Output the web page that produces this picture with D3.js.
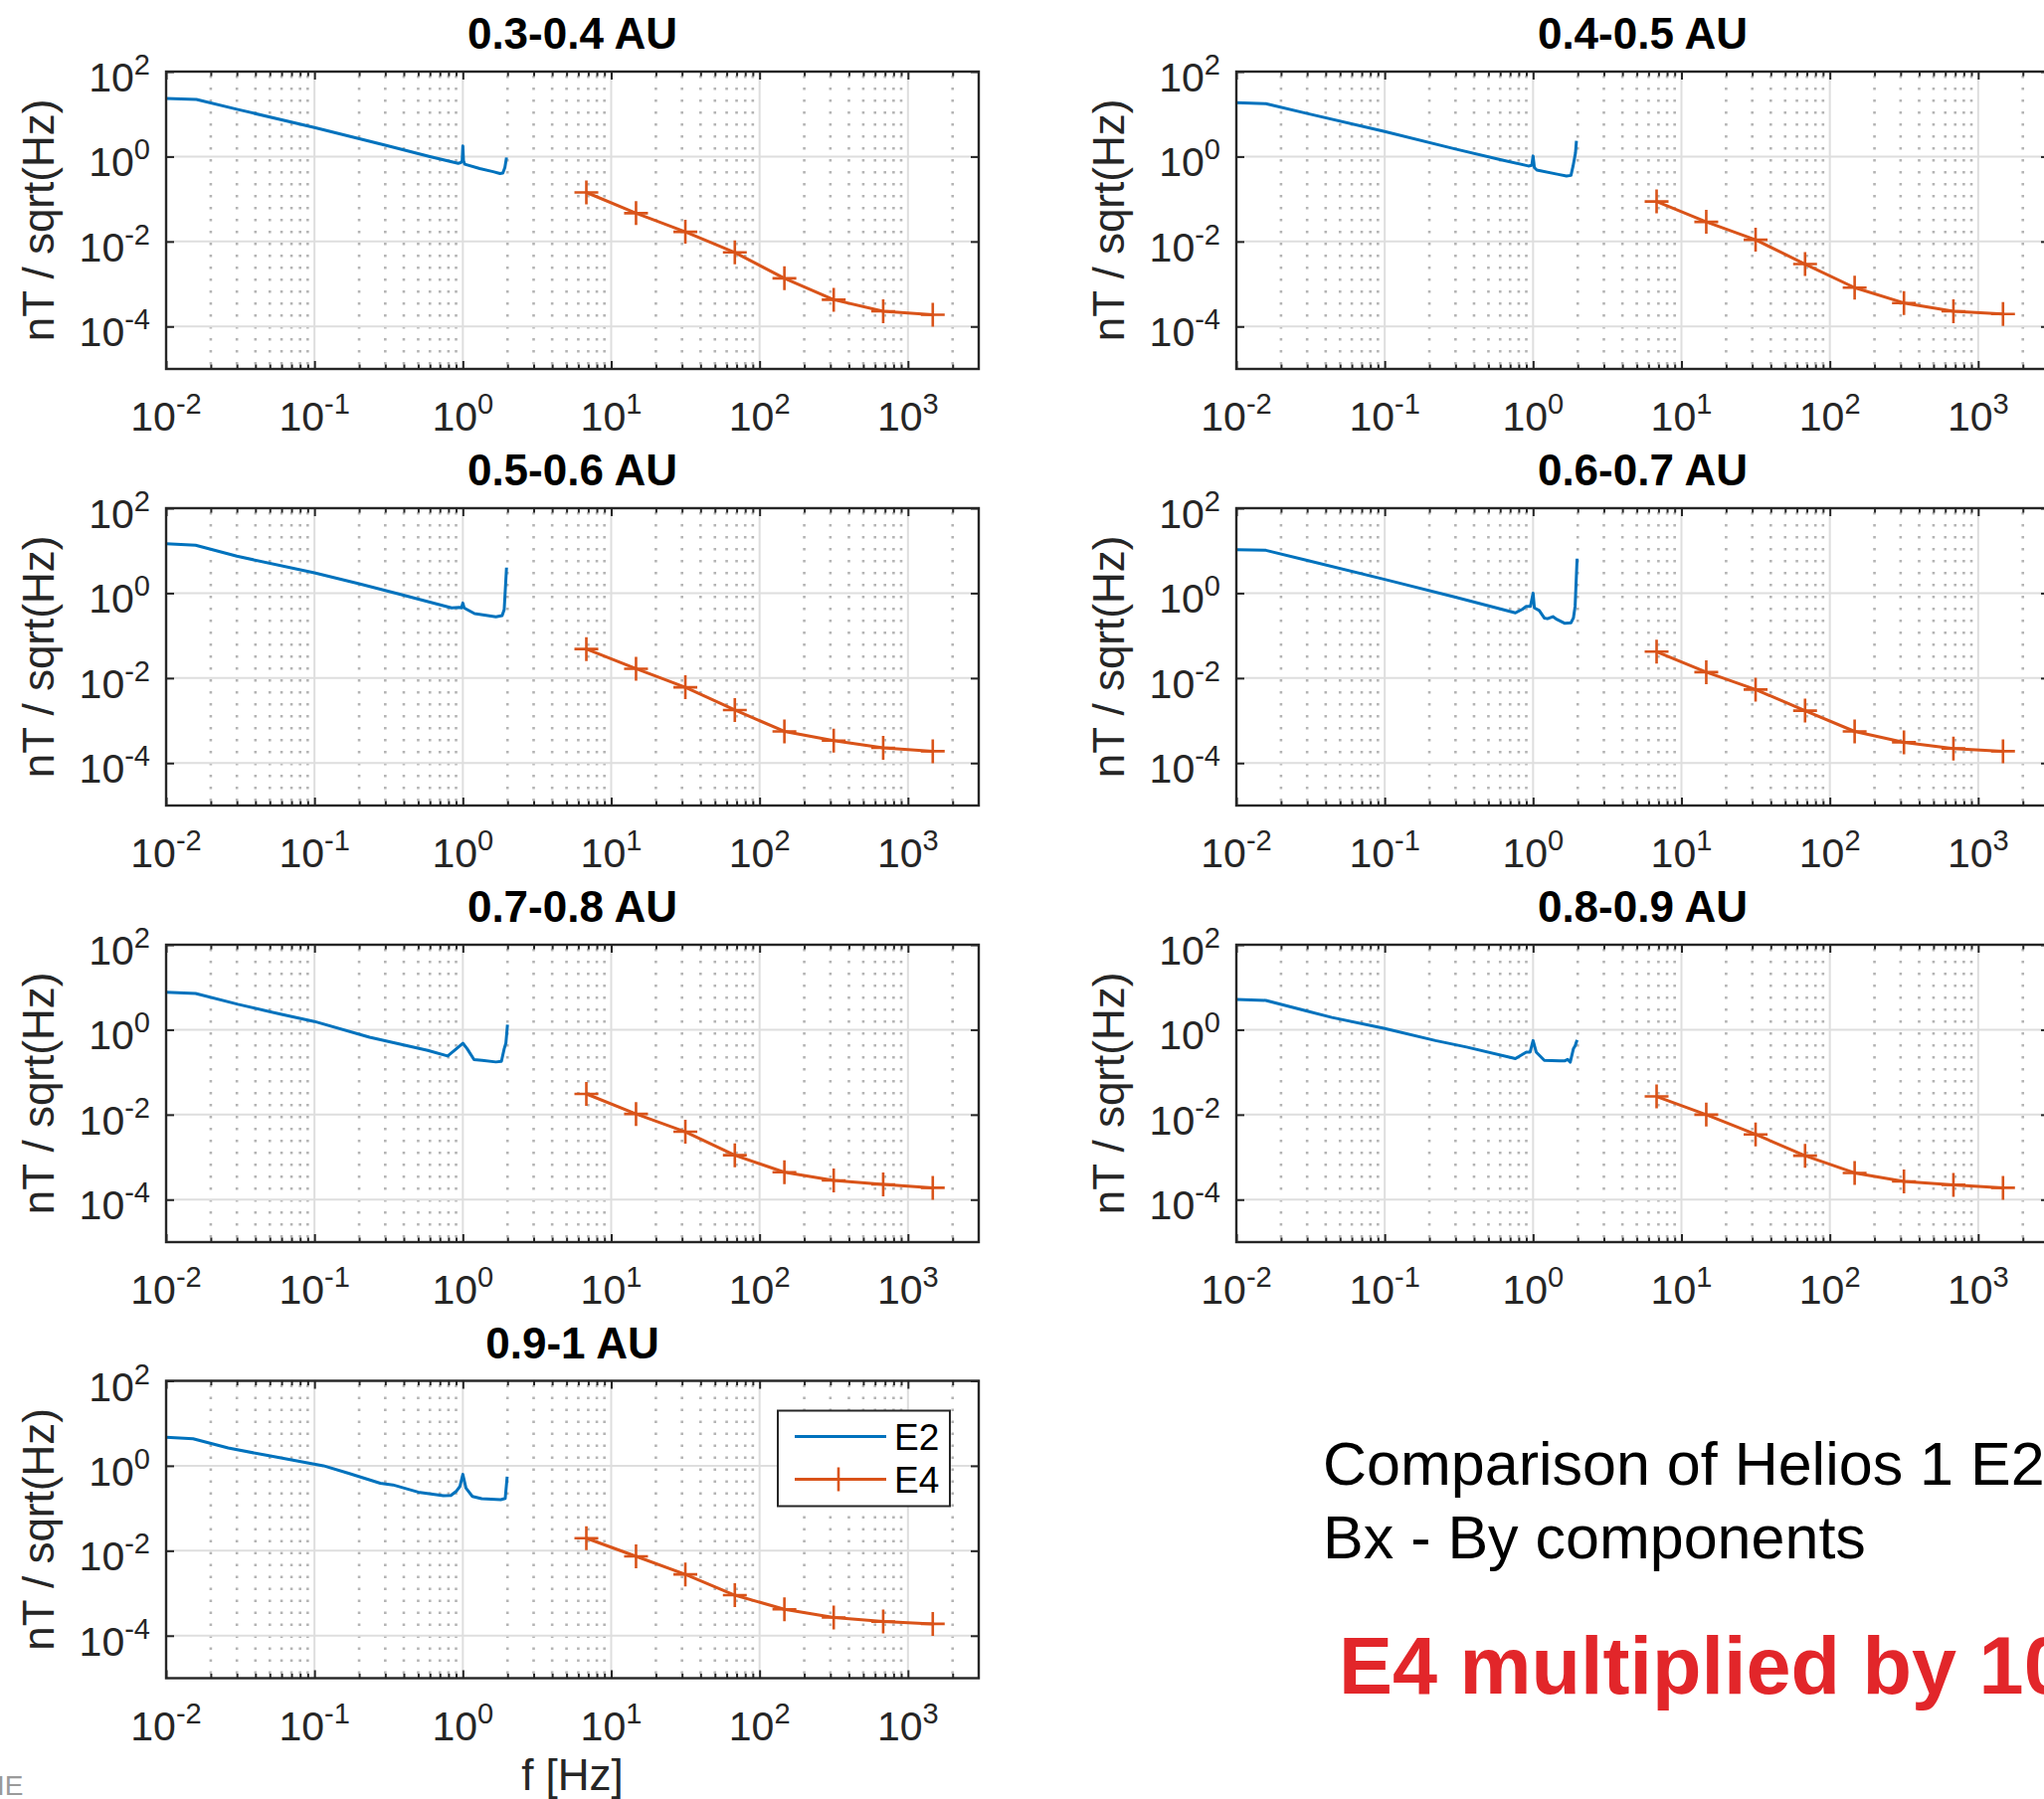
<!DOCTYPE html>
<html>
<head>
<meta charset="utf-8">
<script src="https://cdn.jsdelivr.net/npm/d3@7"></script>
<style>
  html, body { margin: 0; padding: 0; background: #fff; overflow: hidden; }
  svg { display: block; font-family: "Liberation Sans", Arial, Helvetica, sans-serif; }
</style>
</head>
<body>
<svg id="fig" width="2055" height="1809"></svg>
<script>
// ---- data -------------------------------------------------------------

// heliocentric distance bins, one panel each
const bands = ["0.3-0.4 AU", "0.4-0.5 AU", "0.5-0.6 AU", "0.6-0.7 AU",
               "0.7-0.8 AU", "0.8-0.9 AU", "0.9-1 AU"];

// E4 search-coil filter centre frequencies [Hz]
const e4Freq = [6.8, 14.7, 31.6, 68.1, 147, 316, 681, 1470];

// E4 amplitude spectral density per band [nT/sqrt(Hz)]
const e4_03 = [0.143, 0.0465, 0.0169, 0.00554, 0.00136, 4.26e-4, 2.28e-4, 1.89e-4];
const e4_04 = [0.0875, 0.0290, 0.0110, 0.00294, 8.2e-4, 3.57e-4, 2.28e-4, 1.97e-4];
const e4_05 = [0.0483, 0.0166, 0.00608, 0.00177, 5.55e-4, 3.37e-4, 2.28e-4, 1.90e-4];
const e4_06 = [0.0418, 0.0138, 0.00537, 0.00171, 5.55e-4, 3.08e-4, 2.20e-4, 1.90e-4];
const e4_07 = [0.0308, 0.0104, 0.00396, 0.00111, 4.41e-4, 2.83e-4, 2.28e-4, 1.90e-4];
const e4_08 = [0.0268, 0.0100, 0.00343, 0.00108, 4.25e-4, 2.68e-4, 2.23e-4, 1.90e-4];
const e4_09 = [0.0197, 0.00737, 0.00277, 8.98e-4, 4.18e-4, 2.67e-4, 2.15e-4, 1.90e-4];

// E2 fluxgate spectra per band: [frequency Hz, nT/sqrt(Hz)]
const e2_03 = [[0.01, 23.4], [0.016, 22.2], [0.03, 13.0], [0.1, 4.8], [0.3, 1.85], [0.6, 1.0],
  [0.93, 0.69], [0.97, 0.72], [0.99, 0.8], [1.0, 1.78], [1.01, 0.8], [1.03, 0.66],
  [1.3, 0.52], [1.6, 0.44], [1.78, 0.40], [1.86, 0.41], [1.92, 0.55], [1.97, 0.95]];
const e2_04 = [[0.01, 18.6], [0.0158, 17.6], [0.03, 10.3], [0.1, 3.9], [0.3, 1.5], [0.6, 0.85],
  [0.93, 0.60], [0.98, 0.62], [1.0, 1.03], [1.02, 0.55], [1.06, 0.48], [1.48, 0.38],
  [1.68, 0.35], [1.8, 0.36], [1.86, 0.6], [1.93, 1.2], [1.96, 2.35]];
const e2_05 = [[0.01, 14.5], [0.0158, 13.4], [0.03, 7.4], [0.1, 3.0], [0.2, 1.66], [0.37, 0.96],
  [0.84, 0.45], [0.95, 0.46], [0.98, 0.45], [1.0, 0.585], [1.02, 0.45], [1.07, 0.41],
  [1.2, 0.33], [1.67, 0.277], [1.84, 0.297], [1.9, 0.41], [1.97, 4.0]];
const e2_06 = [[0.01, 10.5], [0.0158, 10.2], [0.03, 5.9], [0.1, 2.1], [0.3, 0.8], [0.76, 0.343],
  [0.85, 0.42], [0.9, 0.49], [0.96, 0.49], [1.0, 1.0], [1.02, 0.45], [1.1, 0.39],
  [1.19, 0.26], [1.25, 0.25], [1.36, 0.28], [1.45, 0.24], [1.64, 0.194], [1.8, 0.20],
  [1.87, 0.26], [1.92, 0.49], [1.98, 6.5]];
const e2_07 = [[0.01, 7.65], [0.0158, 7.13], [0.0305, 3.96], [0.059, 2.32], [0.1, 1.56],
  [0.235, 0.664], [0.58, 0.325], [0.79, 0.24], [0.905, 0.356], [1.0, 0.48], [1.07, 0.356],
  [1.19, 0.197], [1.35, 0.19], [1.67, 0.174], [1.82, 0.18], [1.9, 0.356], [1.95, 0.48],
  [2.0, 1.31]];
const e2_08 = [[0.01, 5.18], [0.0158, 4.9], [0.0296, 2.77], [0.0441, 1.94], [0.0986, 1.08],
  [0.22, 0.555], [0.356, 0.39], [0.76, 0.208], [0.9, 0.297], [0.955, 0.297], [1.0, 0.555],
  [1.05, 0.297], [1.19, 0.19], [1.51, 0.186], [1.64, 0.186], [1.71, 0.20], [1.78, 0.172],
  [1.87, 0.356], [1.92, 0.415], [1.98, 0.575]];
const e2_09 = [[0.01, 4.72], [0.0152, 4.32], [0.0262, 2.62], [0.0473, 1.77], [0.115, 1.0],
  [0.17, 0.664], [0.278, 0.388], [0.338, 0.355], [0.5, 0.24], [0.74, 0.197], [0.83, 0.20],
  [0.9, 0.248], [0.955, 0.325], [1.0, 0.628], [1.05, 0.297], [1.16, 0.19], [1.34, 0.168],
  [1.8, 0.159], [1.93, 0.17], [1.99, 0.555]];

// axis ticks
const xTicks = [1e-2, 1e-1, 1e0, 1e1, 1e2, 1e3];
const xTickExp = ["-2", "-1", "0", "1", "2", "3"];
const yTicks = [1e-4, 1e-2, 1e0, 1e2];
const yTickExp = ["-4", "-2", "0", "2"];
const seriesNames = ["E2", "E4"];

// ---- layout -----------------------------------------------------------
const colX = [167, 1243];
const rowY = [72, 511, 950, 1388.5];
const W = 817, H = 299;
const blue = "#0072BD", orange = "#D95319", ink = "#262626";

const panels = [
  { title: bands[0], e2: e2_03, e4: e4_03, col: 0, row: 0 },
  { title: bands[1], e2: e2_04, e4: e4_04, col: 1, row: 0 },
  { title: bands[2], e2: e2_05, e4: e4_05, col: 0, row: 1 },
  { title: bands[3], e2: e2_06, e4: e4_06, col: 1, row: 1 },
  { title: bands[4], e2: e2_07, e4: e4_07, col: 0, row: 2 },
  { title: bands[5], e2: e2_08, e4: e4_08, col: 1, row: 2 },
  { title: bands[6], e2: e2_09, e4: e4_09, col: 0, row: 3, legend: true, xlabel: true }
];

const svg = d3.select("#fig");
svg.append("rect").attr("width", 2055).attr("height", 1809).attr("fill", "#fff");

const x = d3.scaleLog().domain([0.01, 3000]).range([0, W]);
const y = d3.scaleLog().domain([1e-5, 100]).range([H, 0]);

// minor decade positions 2..9 x 10^k inside the x domain
const xMinor = [];
for (let k = -2; k <= 3; k++) {
  for (let m = 2; m <= 9; m++) {
    const v = m * Math.pow(10, k);
    if (v < 3000) xMinor.push(v);
  }
}

const plus = "M-12,0H12M0,-12V12";

panels.forEach((p, i) => {
  const g = svg.append("g")
    .attr("transform", `translate(${colX[p.col]},${rowY[p.row]})`);

  const clipId = "clip" + i;
  g.append("clipPath").attr("id", clipId)
    .append("rect").attr("width", W).attr("height", H);

  // minor vertical grid (dotted)
  g.append("g").selectAll("line").data(xMinor).join("line")
    .attr("x1", d => x(d)).attr("x2", d => x(d))
    .attr("y1", 4).attr("y2", H)
    .attr("stroke", "#b4b4b4").attr("stroke-width", 2.6)
    .attr("stroke-dasharray", "2.6 9.4");

  // major grid
  g.append("g").selectAll("line").data(xTicks).join("line")
    .attr("x1", d => x(d)).attr("x2", d => x(d))
    .attr("y1", 0).attr("y2", H)
    .attr("stroke", "#dedede").attr("stroke-width", 2);
  g.append("g").selectAll("line").data(yTicks).join("line")
    .attr("y1", d => y(d)).attr("y2", d => y(d))
    .attr("x1", 0).attr("x2", W)
    .attr("stroke", "#dedede").attr("stroke-width", 2);

  // inward tick marks on all four sides
  const tickAxis = (axis, tr) => {
    const a = g.append("g").attr("transform", tr).call(axis);
    a.select(".domain").remove();
    a.selectAll(".tick line").attr("stroke", ink).attr("stroke-width", 2);
    a.selectAll(".tick text").remove();
  };
  tickAxis(d3.axisBottom(x).tickValues(xTicks).tickSize(-8).tickFormat(""), `translate(0,${H})`);
  tickAxis(d3.axisBottom(x).tickValues(xMinor).tickSize(-4.5).tickFormat(""), `translate(0,${H})`);
  tickAxis(d3.axisTop(x).tickValues(xTicks).tickSize(-8).tickFormat(""), "translate(0,0)");
  tickAxis(d3.axisTop(x).tickValues(xMinor).tickSize(-4.5).tickFormat(""), "translate(0,0)");
  tickAxis(d3.axisLeft(y).tickValues(yTicks).tickSize(-8).tickFormat(""), "translate(0,0)");
  tickAxis(d3.axisRight(y).tickValues(yTicks).tickSize(-8).tickFormat(""), `translate(${W},0)`);

  // data
  const plot = g.append("g").attr("clip-path", `url(#${clipId})`);
  const lineE2 = d3.line().x(d => x(d[0])).y(d => y(d[1]));
  plot.append("path").datum(p.e2)
    .attr("d", lineE2).attr("fill", "none")
    .attr("stroke", blue).attr("stroke-width", 3).attr("stroke-linejoin", "round");

  const e4pts = e4Freq.map((f, j) => [f, p.e4[j]]);
  plot.append("path").datum(e4pts)
    .attr("d", lineE2).attr("fill", "none")
    .attr("stroke", orange).attr("stroke-width", 3).attr("stroke-linejoin", "round");
  plot.append("g").selectAll("path").data(e4pts).join("path")
    .attr("transform", d => `translate(${x(d[0])},${y(d[1])})`)
    .attr("d", plus).attr("stroke", orange).attr("stroke-width", 2.6).attr("fill", "none");

  // box
  g.append("rect").attr("width", W).attr("height", H)
    .attr("fill", "none").attr("stroke", ink).attr("stroke-width", 2.4);

  // x tick labels 10^k
  const xl = g.append("g").selectAll("text").data(xTicks).join("text")
    .attr("x", d => x(d)).attr("y", H + 62)
    .attr("text-anchor", "middle").attr("fill", ink).attr("font-size", 41);
  xl.append("tspan").text("10");
  xl.append("tspan").attr("font-size", 29).attr("dy", -17).text((d, j) => xTickExp[j]);

  // y tick labels 10^k
  const yl = g.append("g").selectAll("text").data(yTicks).join("text")
    .attr("x", -16).attr("y", d => y(d) + 20)
    .attr("text-anchor", "end").attr("fill", ink).attr("font-size", 41);
  yl.append("tspan").text("10");
  yl.append("tspan").attr("font-size", 29).attr("dy", -17).text((d, j) => yTickExp[j]);

  // y label
  g.append("text")
    .attr("transform", `translate(-113,${H / 2}) rotate(-90)`)
    .attr("text-anchor", "middle").attr("fill", ink).attr("font-size", 44)
    .text("nT / sqrt(Hz)");

  // title
  g.append("text")
    .attr("x", W / 2).attr("y", -23)
    .attr("text-anchor", "middle").attr("fill", "#000")
    .attr("font-size", 44).attr("font-weight", "bold")
    .text(p.title);

  if (p.xlabel) {
    g.append("text")
      .attr("x", W / 2).attr("y", H + 112)
      .attr("text-anchor", "middle").attr("fill", ink).attr("font-size", 44)
      .text("f [Hz]");
  }

  if (p.legend) {
    const lg = g.append("g").attr("transform", `translate(${W - 202},30)`);
    lg.append("rect").attr("width", 173).attr("height", 96)
      .attr("fill", "#fff").attr("stroke", ink).attr("stroke-width", 2);
    const rows = [{ c: blue, y: 26, m: false }, { c: orange, y: 69, m: true }];
    rows.forEach((r, j) => {
      lg.append("line").attr("x1", 17).attr("x2", 109).attr("y1", r.y).attr("y2", r.y)
        .attr("stroke", r.c).attr("stroke-width", 3);
      if (r.m) {
        lg.append("path").attr("transform", `translate(61,${r.y})`)
          .attr("d", plus).attr("stroke", r.c).attr("stroke-width", 2.6);
      }
      lg.append("text").attr("x", 117).attr("y", r.y + 13)
        .attr("font-size", 37).attr("fill", "#000").text(seriesNames[j]);
    });
  }
});

// annotation text
svg.append("text").attr("x", 1330).attr("y", 1493)
  .attr("font-size", 61).attr("fill", "#000")
  .text("Comparison of Helios 1 E2");
svg.append("text").attr("x", 1330).attr("y", 1567)
  .attr("font-size", 61).attr("fill", "#000")
  .text("Bx - By components");
svg.append("text").attr("x", 1346).attr("y", 1703)
  .attr("font-size", 81).attr("font-weight", "bold").attr("fill", "#e2262a")
  .text("E4 multiplied by 10");

// logo fragment at the lower left edge
svg.append("text").attr("x", -3).attr("y", 1805)
  .attr("font-size", 28).attr("fill", "#9a9a9a")
  .attr("font-family", "'Liberation Sans Narrow', 'Liberation Sans', sans-serif")
  .text("IE");
</script>
</body>
</html>
